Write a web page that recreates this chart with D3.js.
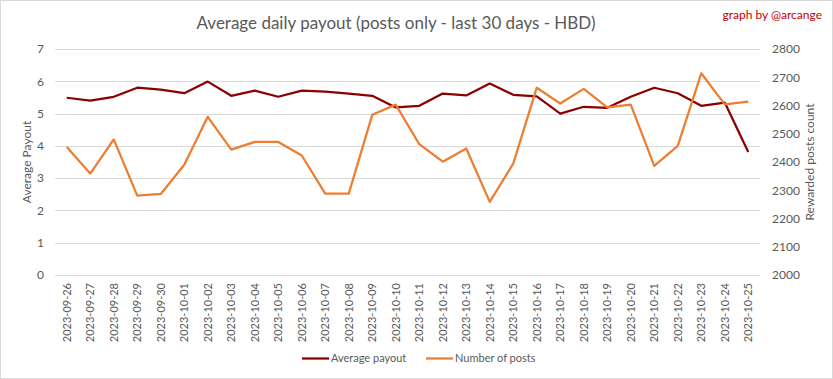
<!DOCTYPE html>
<html><head><meta charset="utf-8">
<script src="https://cdn.jsdelivr.net/npm/d3@7"></script>
<style>body{margin:0;background:#fff;} svg{display:block;font-family:Lato,"Open Sans",sans-serif;}</style>
</head><body><svg id="c" width="833" height="379"></svg>
<script>
const dates = ["2023-09-26","2023-09-27","2023-09-28","2023-09-29","2023-09-30","2023-10-01","2023-10-02","2023-10-03","2023-10-04","2023-10-05","2023-10-06","2023-10-07","2023-10-08","2023-10-09","2023-10-10","2023-10-11","2023-10-12","2023-10-13","2023-10-14","2023-10-15","2023-10-16","2023-10-17","2023-10-18","2023-10-19","2023-10-20","2023-10-21","2023-10-22","2023-10-23","2023-10-24","2023-10-25"];
const avgPayout = [5.49,5.40,5.52,5.80,5.74,5.63,5.99,5.55,5.71,5.52,5.71,5.68,5.62,5.55,5.19,5.24,5.62,5.56,5.93,5.58,5.53,5.00,5.21,5.18,5.52,5.80,5.63,5.24,5.34,3.81];
const numPosts = [2453,2359,2480,2281,2287,2390,2560,2444,2471,2471,2423,2288,2288,2567,2603,2463,2401,2448,2259,2394,2663,2607,2659,2593,2603,2386,2457,2714,2604,2614];
const leftTicks = [0,1,2,3,4,5,6,7];
const rightTicks = [2000,2100,2200,2300,2400,2500,2600,2700,2800];

const svg = d3.select("#c");
const W=833,H=379;
svg.append("rect").attr("x",0.5).attr("y",0.5).attr("width",W-1).attr("height",H-1).attr("fill","#fff").attr("stroke","#d9d9d9");

const L=55,R=760,T=49,B=275;
const x = d3.scaleBand().domain(dates).range([L,R]);
const yL = d3.scaleLinear().domain([0,7]).range([B,T]);
const yR = d3.scaleLinear().domain([2000,2800]).range([B,T]);

svg.append("g").selectAll("line").data(leftTicks).join("line")
  .attr("x1",L).attr("x2",R).attr("y1",d=>Math.round(yL(d))+0.5).attr("y2",d=>Math.round(yL(d))+0.5)
  .attr("stroke","#d9d9d9").attr("stroke-width",1);

const gl = svg.append("g").attr("transform",`translate(${L-11},0)`)
  .call(d3.axisLeft(yL).tickValues(leftTicks).tickFormat(d3.format("d")).tickSize(0).tickPadding(0));
gl.select(".domain").remove();
gl.selectAll("text").attr("fill","#595959").style("font-size","12px").style("font-family","Lato, sans-serif");

const gr = svg.append("g").attr("transform",`translate(${R+12},0)`)
  .call(d3.axisRight(yR).tickValues(rightTicks).tickFormat(d3.format("d")).tickSize(0).tickPadding(0));
gr.select(".domain").remove();
gr.selectAll("text").attr("fill","#595959").style("font-size","12px").style("font-family","Lato, sans-serif");

const gx = svg.append("g").attr("transform",`translate(0,${B})`)
  .call(d3.axisBottom(x).tickSize(0).tickPadding(0));
gx.select(".domain").remove();
gx.selectAll("text").attr("fill","#595959").style("font-size","11px").style("font-family","Lato, sans-serif")
  .attr("text-anchor","end").attr("dy","0.35em").attr("transform","translate(0,8) rotate(-90)").attr("x",0).attr("y",0);

svg.append("text").attr("transform",`translate(31,${(T+B)/2}) rotate(-90)`).attr("text-anchor","middle")
  .attr("fill","#595959").style("font-size","12px").text("Average Payout");
svg.append("text").attr("transform",`translate(814,${(T+B)/2}) rotate(-90)`).attr("text-anchor","middle")
  .attr("fill","#595959").style("font-size","12px").text("Rewarded posts  count");

const lineL = d3.line().x((d,i)=>x(dates[i])+x.bandwidth()/2).y(d=>yL(d));
const lineR = d3.line().x((d,i)=>x(dates[i])+x.bandwidth()/2).y(d=>yR(d));
svg.append("path").datum(avgPayout).attr("d",lineL).attr("fill","none").attr("stroke","#8b0000").attr("stroke-width",2.25).attr("stroke-linejoin","round");
svg.append("path").datum(numPosts).attr("d",lineR).attr("fill","none").attr("stroke","#ed7d31").attr("stroke-width",2.25).attr("stroke-linejoin","round");

svg.append("text").attr("x",396).attr("y",29).attr("text-anchor","middle").attr("fill","#595959")
  .style("font-size","17px").text("Average daily payout (posts only - last 30 days - HBD)");
svg.append("text").attr("x",822).attr("y",19).attr("text-anchor","end").attr("fill","#c00000")
  .style("font-size","12px").text("graph by @arcange");

const leg = [{name:"Average payout",c:"#8b0000",x:302},{name:"Number of posts",c:"#ed7d31",x:426}];
const lg = svg.append("g");
leg.forEach(d=>{
  lg.append("line").attr("x1",d.x).attr("x2",d.x+27).attr("y1",358.5).attr("y2",358.5).attr("stroke",d.c).attr("stroke-width",2.25);
  lg.append("text").attr("x",d.x+29).attr("y",362).attr("fill","#595959").style("font-size","11px").text(d.name);
});
</script></body></html>
